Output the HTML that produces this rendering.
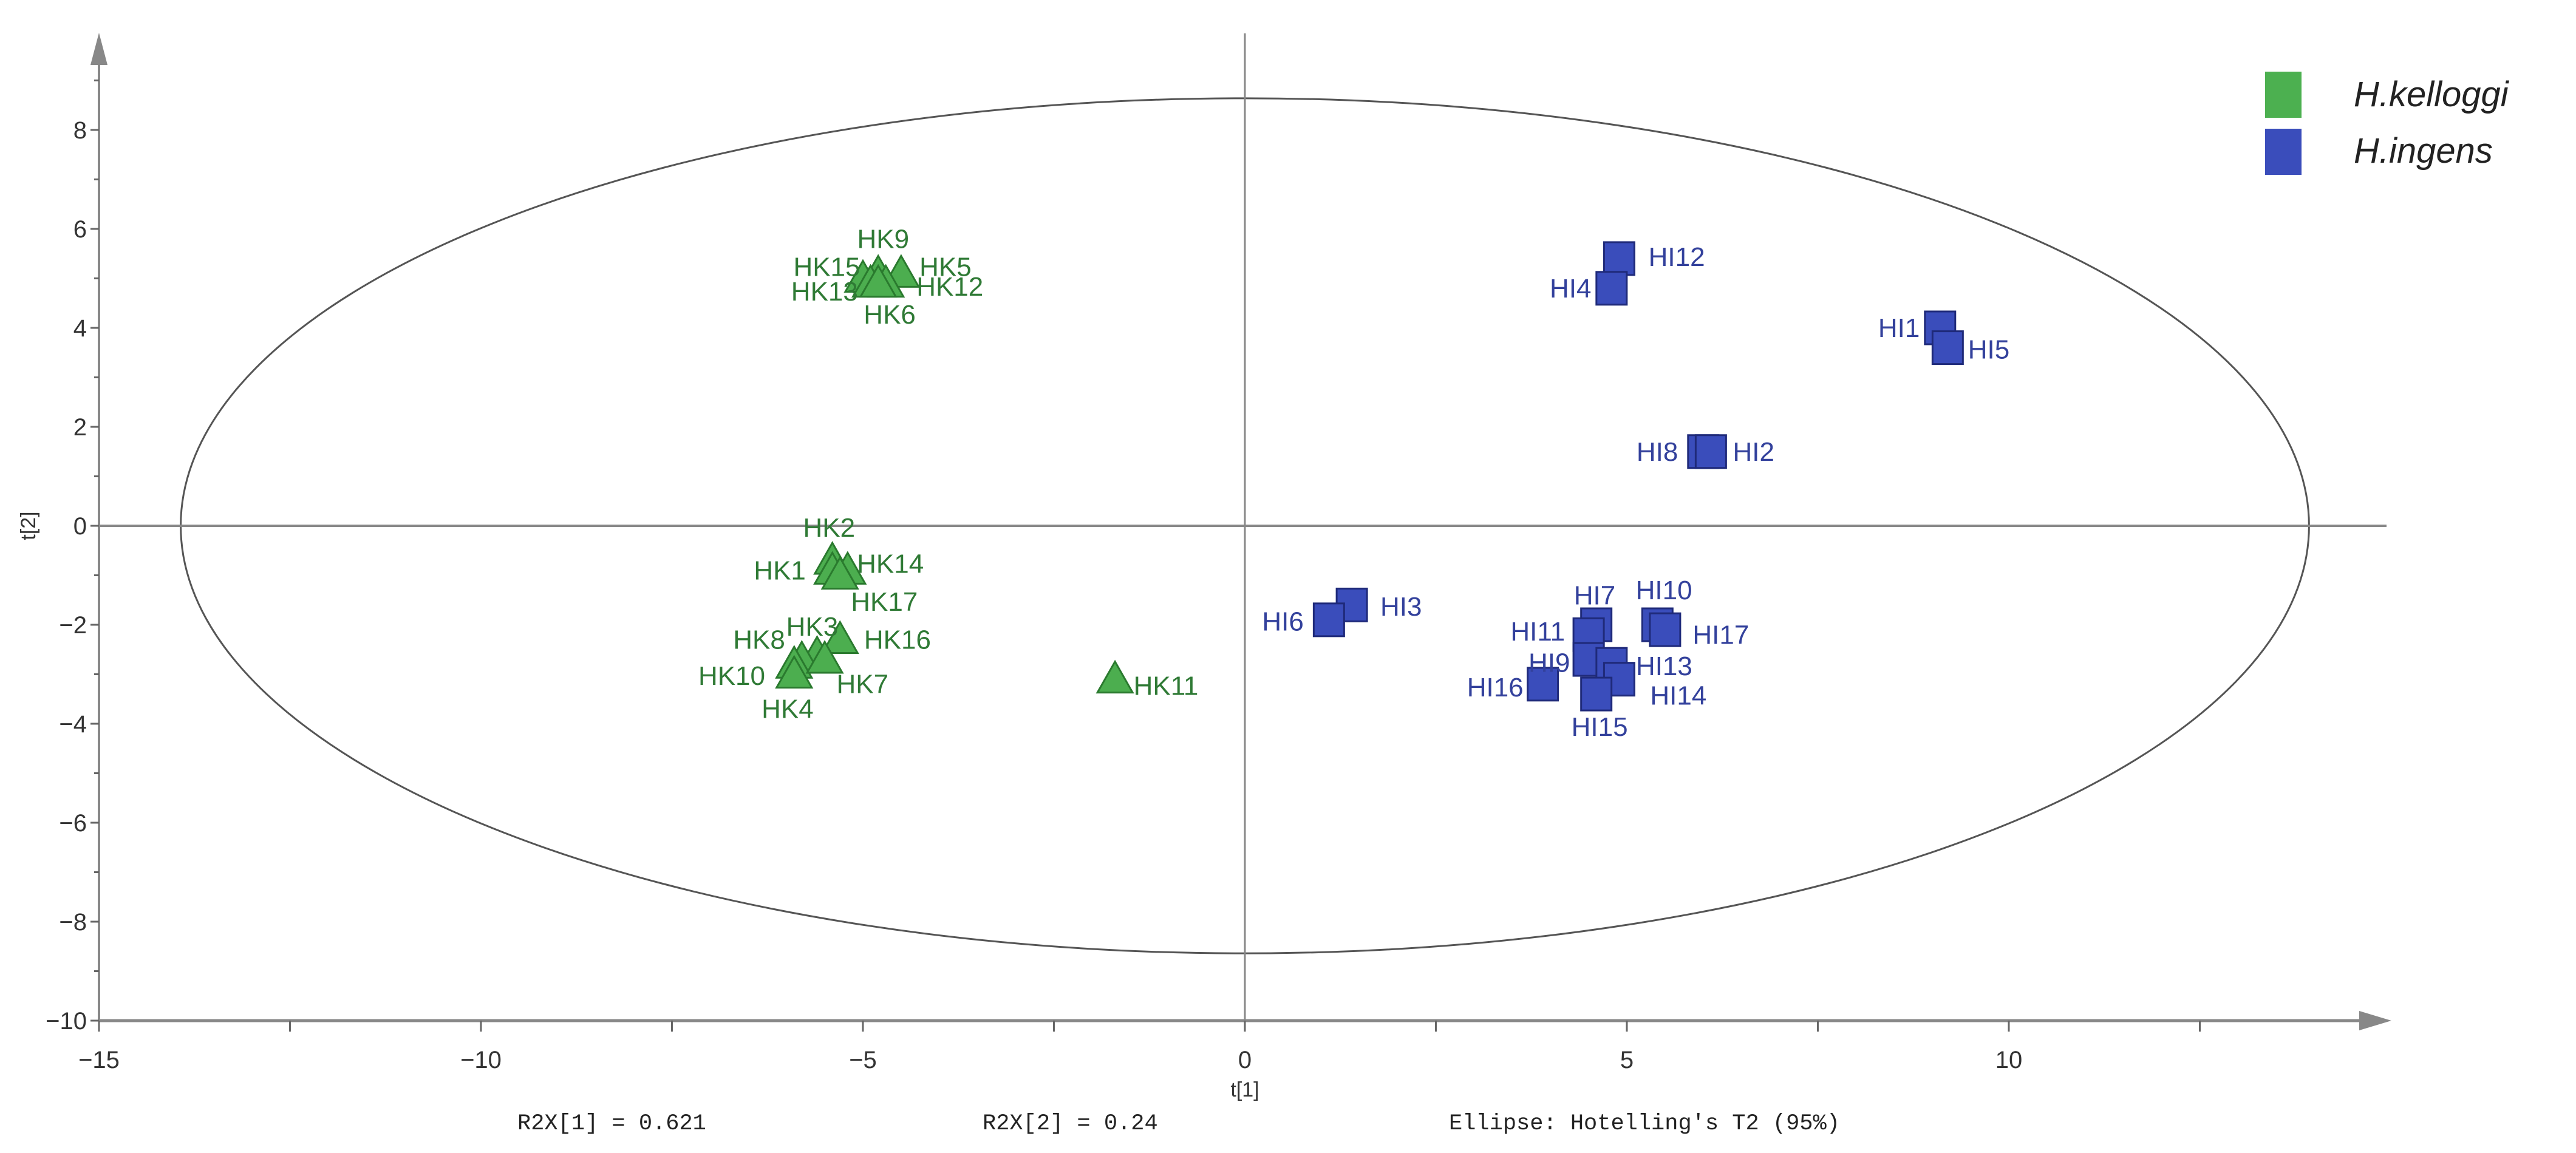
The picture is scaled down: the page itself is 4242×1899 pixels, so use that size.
<!DOCTYPE html>
<html><head><meta charset="utf-8"><style>
html,body{margin:0;padding:0;background:#fff;}
svg{display:block;}
text{font-family:"Liberation Sans",sans-serif;}
.mono{font-family:"Liberation Mono",monospace;}
</style></head><body>
<svg id="chart" xmlns="http://www.w3.org/2000/svg" width="4242" height="1899" viewBox="0 0 4242 1899">
<g id="axes"></g>
<g id="marks"></g>
<g>
<rect x="3730" y="118" width="60" height="76" fill="#4cb050"/>
<text x="3876" y="175" font-size="58" font-style="italic" fill="#222">H.kelloggi</text>
<rect x="3730" y="212" width="60" height="76" fill="#3a4dbb"/>
<text x="3876" y="268" font-size="58" font-style="italic" fill="#222">H.ingens</text>
</g>
<text x="2050" y="1806" font-size="34" text-anchor="middle" fill="#333">t[1]</text>
<text transform="translate(58,866) rotate(-90)" font-size="34" text-anchor="middle" fill="#333">t[2]</text>
<text class="mono" x="852" y="1860" font-size="37" fill="#222">R2X[1] = 0.621</text>
<text class="mono" x="1618" y="1860" font-size="37" fill="#222">R2X[2] = 0.24</text>
<text class="mono" x="2386" y="1860" font-size="37" fill="#222">Ellipse: Hotelling's T2 (95%)</text>
</svg>
<script>
// Data
const hkNames = ["HK9","HK15","HK5","HK13","HK12","HK6","HK2","HK1","HK14","HK17","HK3","HK8","HK16","HK10","HK7","HK4","HK11"];
const hkT1 = [-4.8,-5.0,-4.5,-4.9,-4.7,-4.8,-5.4,-5.4,-5.2,-5.3,-5.6,-5.8,-5.3,-5.9,-5.5,-5.9,-1.7];
const hkT2 = [5.1,5.0,5.1,4.9,4.9,4.9,-0.7,-0.9,-0.9,-1.0,-2.6,-2.7,-2.3,-2.8,-2.7,-3.0,-3.1];
const hiNames = ["HI12","HI4","HI1","HI5","HI8","HI2","HI3","HI6","HI7","HI10","HI11","HI17","HI9","HI13","HI16","HI14","HI15"];
const hiT1 = [4.9,4.8,9.1,9.2,6.0,6.1,1.4,1.1,4.6,5.4,4.5,5.5,4.5,4.8,3.9,4.9,4.6];
const hiT2 = [5.4,4.8,4.0,3.6,1.5,1.5,-1.6,-1.9,-2.0,-2.0,-2.2,-2.1,-2.7,-2.8,-3.2,-3.1,-3.4];
const xTicks = [-15,-10,-5,0,5,10];
const yTicks = [-10,-8,-6,-4,-2,0,2,4,6,8];
const ellipseRx = 13.93, ellipseRy = 8.64;

// label offsets (style, px)
const hkOff = [[3,-21],[-22,-7],[27,-4],[-28,5],[39,2],[7,19],[-2,-20],[-32,0],[26,-4],[27,16],[-3,-17],[-26,-12],[35,0],[-38,7],[23,15],[-4,21],[31,4]];
const hiOff = [[35,-1],[-25,0],[-25,0],[25,1],[-28,0],[26,0],[30,1],[-28,1],[-1,-18],[4,-21],[-31,-2],[34,3],[-24,2],[32,1],[-29,2],[36,10],[2,20]];

const X0=2050, XU=125.8, Y0=866, YU=81.5;
const sx = v => X0 + v*XU;
const sy = v => Y0 - v*YU;
const NS="http://www.w3.org/2000/svg";
function mk(tag, attrs, parent){const e=document.createElementNS(NS,tag);for(const k in attrs)e.setAttribute(k,attrs[k]);parent.appendChild(e);return e;}
const axesG=document.getElementById('axes'), marksG=document.getElementById('marks');
const pL=sx(-15), pB=sy(-10), pR=3930, pT=62;

let e;
e=mk('ellipse',{cx:sx(0),cy:sy(0),rx:ellipseRx*XU,ry:ellipseRy*YU,fill:'none',stroke:'#555','stroke-width':3},axesG);


e=mk('line',{x1:pL,y1:sy(0),x2:pR,y2:sy(0),stroke:'#888','stroke-width':4},axesG);


e=mk('line',{x1:sx(0),y1:55,x2:sx(0),y2:pB,stroke:'#888','stroke-width':3},axesG);


e=mk('line',{x1:pL,y1:pB,x2:pR-20,y2:pB,stroke:'#888','stroke-width':5},axesG);


e=mk('polygon',{points:`${pR+8},${pB} ${pR-45},${pB-16} ${pR-45},${pB+16}`,fill:'#888'},axesG);


e=mk('line',{x1:pL,y1:pB,x2:pL,y2:pT+30,stroke:'#888','stroke-width':4},axesG);


e=mk('polygon',{points:`${pL},${pT-8} ${pL-14},${pT+45} ${pL+14},${pT+45}`,fill:'#888'},axesG);


for(let v=-15; v<=13; v+=2.5){
  e=mk('line',{x1:sx(v),y1:pB,x2:sx(v),y2:pB+18,stroke:'#666','stroke-width':3},axesG);
  
  
}
xTicks.forEach(v=>{
  e=mk('text',{x:sx(v),y:pB+78,'font-size':40,'text-anchor':'middle',fill:'#333'},axesG);
  e.textContent=(v<0?'\u2212':'')+Math.abs(v);
  
  
});
for(let v=-10; v<=9; v+=1){
  e=mk('line',{x1:pL-(v%2===0?14:8),y1:sy(v),x2:pL,y2:sy(v),stroke:'#666','stroke-width':3},axesG);
  
  
}
yTicks.forEach(v=>{
  e=mk('text',{x:pL-20,y:sy(v)+14,'font-size':40,'text-anchor':'end',fill:'#333'},axesG);
  e.textContent=(v<0?'\u2212':'')+Math.abs(v);
  
  
});

hkNames.forEach((n,i)=>{
  const x=sx(hkT1[i]), y=sy(hkT2[i]);
  e=mk('polygon',{points:`${x},${y-29} ${x-29},${y+22} ${x+29},${y+22}`,fill:'#4cae4f',stroke:'#2a7a2e','stroke-width':3},marksG);
  
  
});
hiNames.forEach((n,i)=>{
  const x=sx(hiT1[i]), y=sy(hiT2[i]);
  e=mk('rect',{x:x-25,y:y-27,width:50,height:54,fill:'#3a4dbb',stroke:'#1f2a7a','stroke-width':3},marksG);
  
  
});
hkNames.forEach((n,i)=>{
  e=mk('text',{x:sx(hkT1[i])+hkOff[i][0]*2.705,y:sy(hkT2[i])+hkOff[i][1]*2.705+15,'font-size':44,'text-anchor':'middle',fill:'#2f7a35'},marksG);
  e.textContent=n;
  
  
});
hiNames.forEach((n,i)=>{
  e=mk('text',{x:sx(hiT1[i])+hiOff[i][0]*2.705,y:sy(hiT2[i])+hiOff[i][1]*2.705+15,'font-size':44,'text-anchor':'middle',fill:'#33419c'},marksG);
  e.textContent=n;
  
  
});
</script>
</body></html>
